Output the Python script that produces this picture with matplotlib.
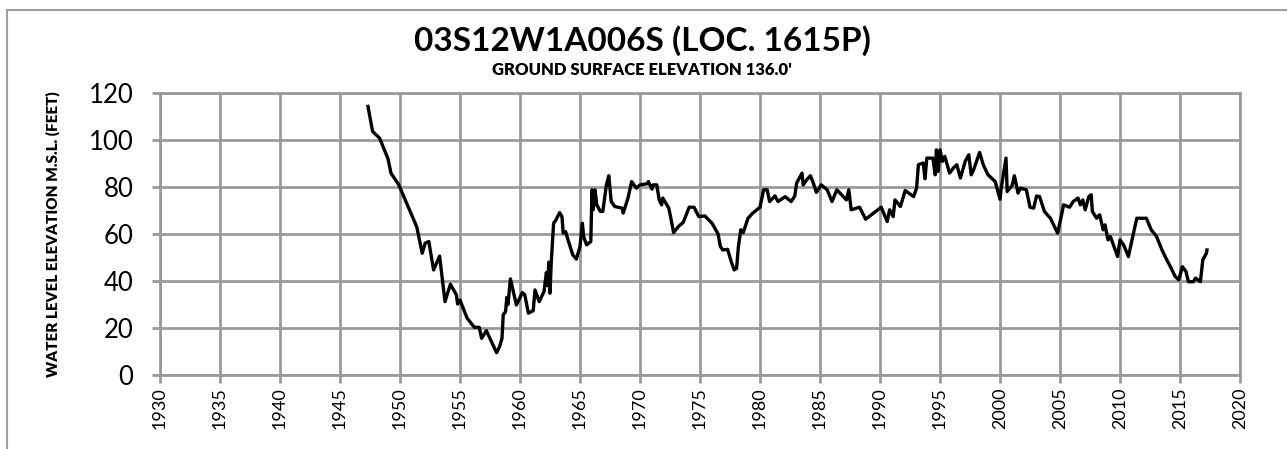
import matplotlib
matplotlib.use("Agg")
import matplotlib.pyplot as plt
from matplotlib.lines import Line2D

# well hydrograph, values
years = [
    1947.33, 1947.72, 1948.3, 1949.0, 1949.25, 1949.9, 1951.4, 1951.85, 1952.1, 1952.4,
    1952.8, 1953.3, 1953.75, 1954.2, 1954.7, 1954.8, 1955.0, 1955.6, 1956.2, 1956.6,
    1956.8, 1957.2, 1957.4, 1958.05, 1958.3, 1958.5, 1958.6, 1958.8, 1958.9, 1959.0,
    1959.2, 1959.7, 1960.2, 1960.4, 1960.7, 1961.1, 1961.25, 1961.6, 1962.0, 1962.2,
    1962.3, 1962.4, 1962.5, 1962.6, 1962.8, 1963.0, 1963.3, 1963.5, 1963.6, 1963.8,
    1964.0, 1964.4, 1964.7, 1965.0, 1965.2, 1965.3, 1965.55, 1965.9, 1966.0, 1966.1,
    1966.25, 1966.4, 1966.7, 1966.9, 1967.2, 1967.4, 1967.6, 1967.9, 1968.5, 1968.6,
    1969.0, 1969.3, 1969.7, 1970.0, 1970.6, 1970.7, 1971.0, 1971.1, 1971.4, 1971.6,
    1971.8, 1971.9, 1972.4, 1972.6, 1972.8, 1973.2, 1973.6, 1974.1, 1974.5, 1974.9,
    1975.4, 1976.0, 1976.5, 1976.7, 1976.9, 1977.3, 1977.6, 1977.85, 1978.05, 1978.2,
    1978.4, 1978.6, 1979.0, 1979.4, 1980.0, 1980.3, 1980.6, 1980.8, 1981.25, 1981.5,
    1982.1, 1982.6, 1982.9, 1983.05, 1983.5, 1983.6, 1983.9, 1984.2, 1984.4, 1984.7,
    1985.1, 1985.6, 1986.0, 1986.4, 1986.8, 1987.2, 1987.4, 1987.6, 1988.3, 1988.8,
    1990.1, 1990.6, 1990.8, 1991.1, 1991.25, 1991.7, 1992.1, 1992.8, 1993.05, 1993.2,
    1993.6, 1993.75, 1993.9, 1994.4, 1994.6, 1994.7, 1994.85, 1995.0, 1995.2, 1995.4,
    1995.8, 1996.1, 1996.4, 1996.7, 1997.1, 1997.4, 1997.6, 1997.8, 1998.3, 1998.6,
    1999.0, 1999.6, 2000.0, 2000.1, 2000.5, 2000.6, 2001.0, 2001.2, 2001.5, 2001.7,
    2002.2, 2002.5, 2002.8, 2003.05, 2003.3, 2003.7, 2004.2, 2004.8, 2005.1, 2005.3,
    2005.8, 2006.1, 2006.5, 2006.7, 2006.9, 2007.1, 2007.4, 2007.6, 2007.7, 2008.05,
    2008.3, 2008.6, 2008.75, 2009.0, 2009.2, 2009.6, 2009.8, 2010.0, 2010.3, 2010.7,
    2011.0, 2011.4, 2012.2, 2012.6, 2013.05, 2013.5, 2013.9, 2014.2, 2014.6, 2014.9,
    2015.2, 2015.5, 2015.7, 2016.1, 2016.3, 2016.7, 2016.9, 2017.2, 2017.25,
]
levels = [
    114.3, 103.6, 100.8, 92.0, 85.9, 80.9, 63.0, 51.8, 56.1, 56.8,
    44.7, 50.6, 31.2, 38.6, 34.1, 30.2, 31.9, 24.1, 20.3, 20.3,
    15.6, 18.9, 16.6, 9.5, 12.1, 15.6, 25.6, 27.0, 33.0, 30.0,
    40.9, 29.8, 35.1, 34.1, 26.3, 27.4, 36.2, 31.2, 35.5, 43.6,
    38.0, 48.0, 34.8, 47.6, 64.6, 66.0, 69.1, 67.4, 60.4, 61.0,
    57.5, 51.1, 49.3, 54.7, 64.6, 58.9, 55.4, 56.8, 78.8, 70.3,
    78.8, 72.4, 69.6, 69.6, 80.9, 84.8, 73.8, 71.7, 71.0, 68.9,
    75.3, 82.3, 79.5, 80.9, 81.4, 82.3, 79.1, 80.9, 80.9, 74.5,
    72.4, 75.3, 71.0, 66.0, 60.6, 63.2, 64.9, 71.4, 71.4, 67.4,
    67.7, 64.6, 60.1, 54.7, 53.2, 53.5, 48.3, 44.7, 45.4, 54.7,
    61.8, 60.6, 66.7, 68.9, 71.4, 78.8, 78.8, 73.8, 76.2, 73.8,
    75.9, 73.8, 76.2, 81.6, 85.9, 80.9, 83.1, 84.8, 82.3, 77.7,
    80.9, 78.8, 73.8, 78.8, 76.7, 74.5, 78.8, 70.3, 71.4, 66.3,
    71.4, 65.3, 70.3, 67.4, 74.5, 71.7, 78.5, 75.9, 79.5, 89.5,
    90.2, 83.5, 92.3, 92.3, 85.2, 95.8, 86.6, 95.8, 90.9, 93.0,
    85.9, 88.0, 89.5, 83.8, 90.9, 93.7, 85.2, 87.3, 94.7, 89.5,
    85.2, 82.3, 74.8, 79.5, 92.3, 78.1, 80.5, 84.8, 77.4, 79.5,
    78.8, 71.4, 71.0, 76.2, 75.9, 69.6, 66.7, 60.4, 67.4, 72.4,
    71.4, 73.8, 75.3, 72.4, 74.5, 70.3, 75.9, 76.7, 69.6, 66.7,
    68.2, 61.8, 63.9, 57.5, 58.9, 53.2, 50.4, 57.5, 55.4, 50.4,
    57.5, 66.7, 66.7, 61.8, 58.9, 53.2, 49.0, 46.1, 41.9, 40.5,
    46.1, 44.0, 39.7, 39.7, 41.2, 39.7, 49.0, 51.8, 53.2,
]

x_ticks = list(range(1930, 2021, 5))
y_ticks = list(range(0, 121, 20))

title = "03S12W1A006S (LOC. 1615P)"
subtitle = "GROUND SURFACE ELEVATION 136.0'"
ylabel = "WATER LEVEL ELEVATION M.S.L. (FEET)"

plt.rcParams['font.family'] = ['Lato', 'DejaVu Sans']
grid_col = '#9a9a9a'

fig = plt.figure(figsize=(12.87, 4.49), dpi=100)
W, H = 1287, 449
ax = fig.add_axes([160 / W, (H - 375) / H, 1080 / W, (375 - 93) / H])

ax.plot(years, levels, color='black', lw=2.4, zorder=3)

ax.set_xlim(1930, 2020)
ax.set_ylim(0, 120)
ax.set_xticks(x_ticks)
ax.set_yticks(y_ticks)
ax.set_xticklabels([str(t) for t in x_ticks], rotation=90, fontsize=13)
ax.set_yticklabels([str(t) for t in y_ticks], fontsize=18.5)
ax.grid(True, color=grid_col, lw=2)
ax.tick_params(axis='both', color=grid_col, width=2, length=6, direction='out')
ax.tick_params(axis='y', pad=13)
ax.tick_params(axis='x', pad=3)
for s in ax.spines.values():
    s.set_color(grid_col)
    s.set_linewidth(2)

ax.set_ylabel(ylabel, fontsize=11, fontweight='heavy')
ax.yaxis.set_label_coords((60 - 160) / 1080, 0.5)

fig.text(642 / W, 1 - 41 / H, title, ha='center', va='center', fontsize=24, fontweight='bold')
fig.text(642 / W, 1 - 70 / H, subtitle, ha='center', va='center', fontsize=12, fontweight='heavy')

# outer chart frame (cropped on the right and bottom)
fig.add_artist(Line2D([7 / W, 7 / W], [0, 1 - 10 / H], color='#a0a0a0', lw=1.5, transform=fig.transFigure))
fig.add_artist(Line2D([7 / W, 1], [1 - 10 / H, 1 - 10 / H], color='#a0a0a0', lw=1.5, transform=fig.transFigure))

fig.savefig('out.png', dpi=100)
